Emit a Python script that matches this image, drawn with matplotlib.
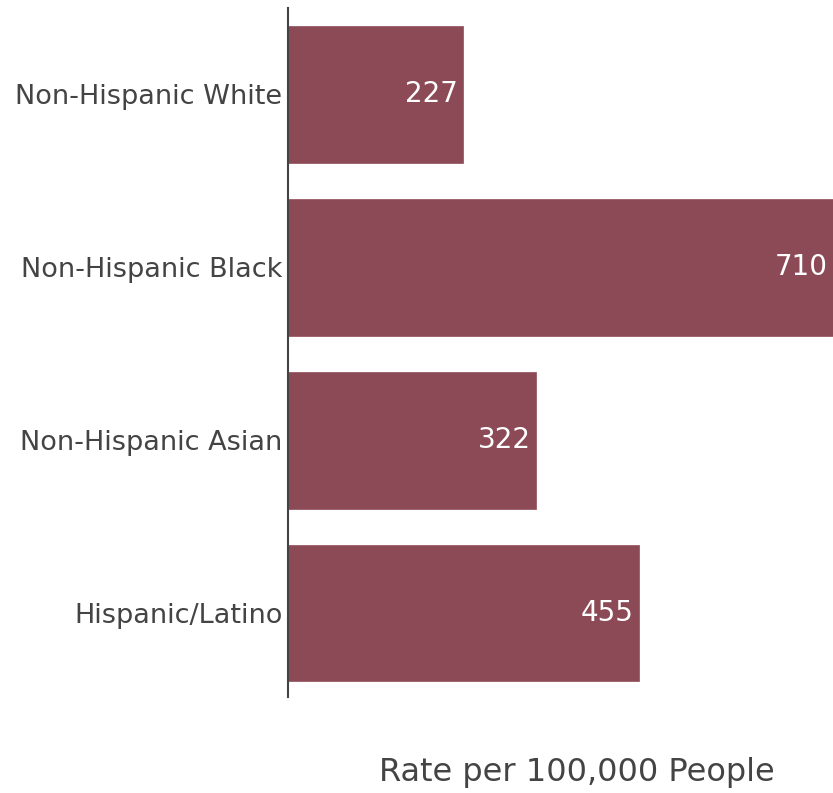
import matplotlib
matplotlib.use("Agg")
import matplotlib.pyplot as plt

groups = ["Non-Hispanic White", "Non-Hispanic Black", "Non-Hispanic Asian", "Hispanic/Latino"]
rates = [227, 710, 322, 455]

bar_color = "#8b4a56"
text_color = "#444444"

fig = plt.figure(figsize=(8.33, 7.93), dpi=100)
ax = fig.add_axes([288 / 833, 1 - 697 / 793, 1 - 288 / 833, 689 / 793])

ypos = list(range(len(groups)))
ax.barh(ypos, rates, height=0.79, color=bar_color, edgecolor="#9a5c67", linewidth=0.6)

# value labels inside the bar end
for y, v in zip(ypos, rates):
    ax.text(min(v, 707) - 7, y, str(v), ha="right", va="center",
            color="white", fontsize=20)

ax.set_xlim(0, 707)
ax.set_ylim(3.485, -0.5)
ax.set_yticks(ypos)
ax.set_yticklabels(groups, fontsize=19.5, color=text_color)
ax.tick_params(axis="y", length=0, pad=4)
ax.set_xticks([])

for side in ["top", "right", "bottom"]:
    ax.spines[side].set_visible(False)
ax.spines["left"].set_color("#444444")
ax.spines["left"].set_linewidth(1.5)

fig.text(577 / 833, 1 - 773 / 793, "Rate per 100,000 People",
         ha="center", va="center", fontsize=23, color=text_color)

fig.savefig("out.png", dpi=100)
